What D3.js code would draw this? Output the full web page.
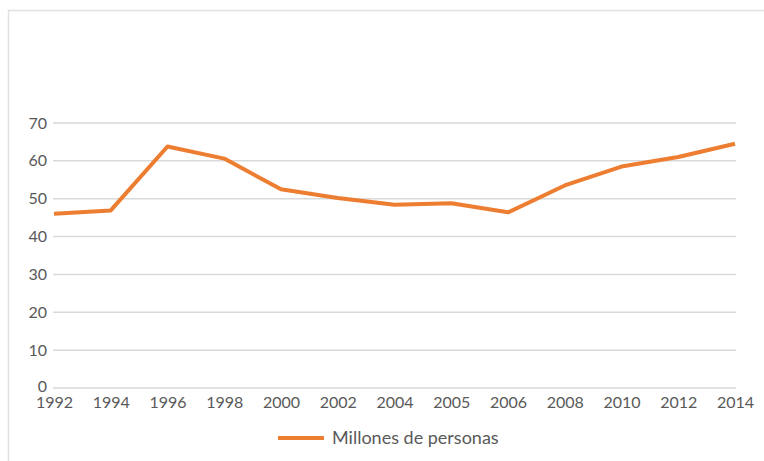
<!DOCTYPE html>
<html><head><meta charset="utf-8">
<script src="https://cdn.jsdelivr.net/npm/d3@7"></script>
<style>body{margin:0;background:#fff}svg{display:block}</style>
</head><body>
<svg id="c" width="764" height="461"></svg>
<script>
const years = ["1992","1994","1996","1998","2000","2002","2004","2005","2006","2008","2010","2012","2014"];
const values = [46.0, 46.9, 63.8, 60.6, 52.5, 50.2, 48.4, 48.8, 46.4, 53.5, 58.5, 61.0, 64.5];
const yTicks = [0,10,20,30,40,50,60,70];
const seriesName = "Millones de personas";

const svg = d3.select("#c");
const font = "Lato, 'Open Sans', sans-serif";
// frame
svg.append("rect").attr("x",8.5).attr("y",10.5).attr("width",800).attr("height",500)
  .attr("fill","#fff").attr("stroke","#e0e0e0").attr("stroke-width",1.5);

const x = d3.scalePoint().domain(years).range([54,735]);
const y = d3.scaleLinear().domain([0,70]).range([388,123]);

const grid = svg.append("g");
grid.selectAll("line").data(yTicks).join("line")
  .attr("x1",53).attr("x2",736).attr("y1",d=>y(d)).attr("y2",d=>y(d))
  .attr("stroke","#d9d9d9").attr("stroke-width",1.5);

const yAxis = svg.append("g").attr("transform","translate(53,0)")
  .call(d3.axisLeft(y).tickValues(yTicks).tickSize(0).tickPadding(6));
yAxis.select(".domain").remove();
yAxis.selectAll("text").attr("font-family",font).attr("font-size",16).attr("fill","#595959");
yAxis.selectAll("text").filter(d=>d===0).attr("dy","0.2em");

const xAxis = svg.append("g").attr("transform","translate(0,396)")
  .call(d3.axisBottom(x).tickSize(0).tickPadding(0));
xAxis.select(".domain").remove();
xAxis.selectAll("text").attr("font-family",font).attr("font-size",16).attr("fill","#595959").attr("dy","0.72em");

const line = d3.line().x((d,i)=>x(years[i])).y(d=>y(d));
svg.append("path").datum(values).attr("d",line).attr("fill","none")
  .attr("stroke","#ED7D31").attr("stroke-width",4).attr("stroke-linejoin","round");

const lg = svg.append("g");
lg.append("line").attr("x1",278).attr("x2",324).attr("y1",438).attr("y2",438)
  .attr("stroke","#ED7D31").attr("stroke-width",4);
lg.append("text").attr("x",332).attr("y",438).attr("dy","0.35em")
  .attr("font-family",font).attr("font-size",18).attr("fill","#595959").text(seriesName);
</script>
</body></html>
